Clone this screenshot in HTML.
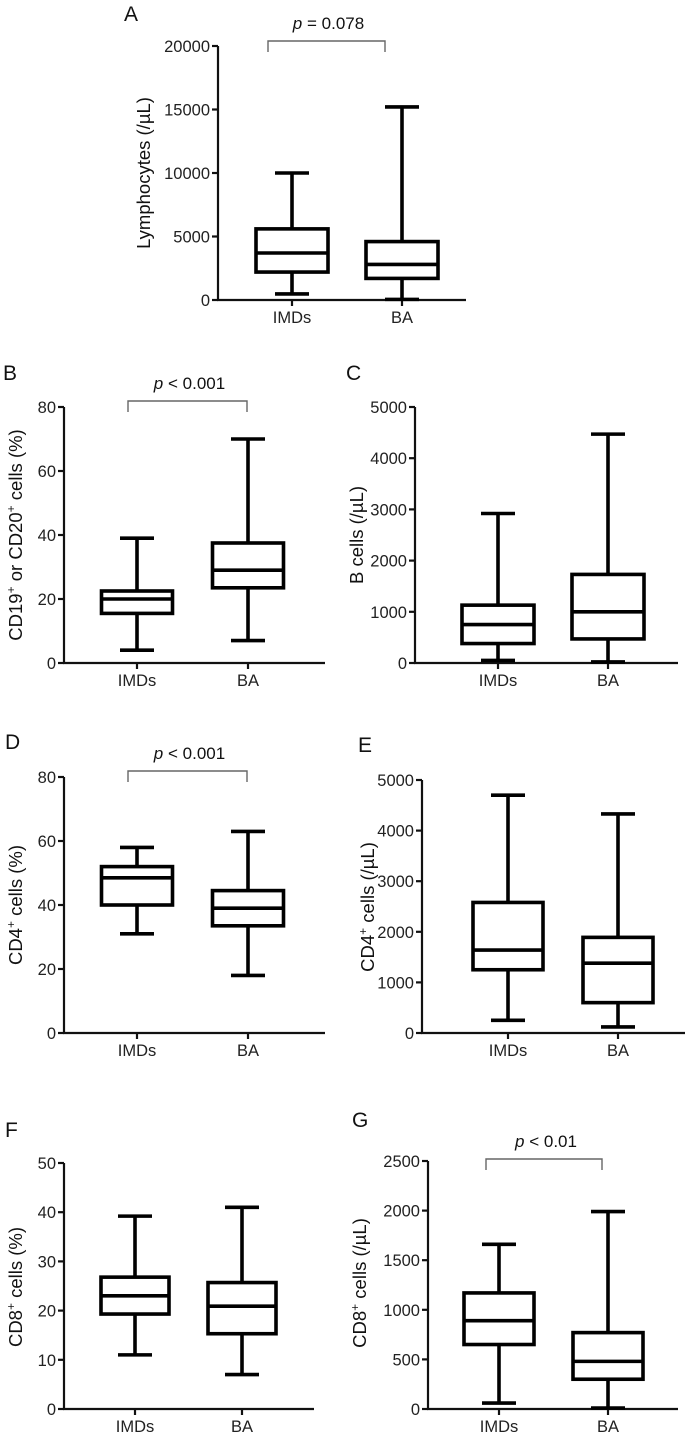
<!DOCTYPE html>
<html><head><meta charset="utf-8"><style>
html,body{margin:0;padding:0;background:#fff;}
svg{display:block;font-family:"Liberation Sans",Arial,sans-serif;}
</style></head><body>
<svg id="fig" width="685" height="1436" viewBox="0 0 685 1436" xmlns="http://www.w3.org/2000/svg"></svg>
<script>
const cats = ["IMDs","BA"];
// Panel A
const aMin=[480,50], aQ1=[2200,1700], aMed=[3700,2800], aQ3=[5600,4600], aMax=[10000,15200];
const aTicks=[0,5000,10000,15000,20000];
// Panel B
const bMin=[4,7], bQ1=[15.5,23.5], bMed=[20,29], bQ3=[22.5,37.5], bMax=[39,70];
const bTicks=[0,20,40,60,80];
// Panel C
const cMin=[50,20], cQ1=[380,470], cMed=[750,1000], cQ3=[1130,1730], cMax=[2920,4470];
const cTicks=[0,1000,2000,3000,4000,5000];
// Panel D
const dMin=[31,18], dQ1=[40,33.5], dMed=[48.5,39], dQ3=[52,44.5], dMax=[58,63];
const dTicks=[0,20,40,60,80];
// Panel E
const eMin=[250,120], eQ1=[1250,600], eMed=[1640,1380], eQ3=[2580,1890], eMax=[4700,4330];
const eTicks=[0,1000,2000,3000,4000,5000];
// Panel F
const fMin=[11,7], fQ1=[19.3,15.3], fMed=[23,20.9], fQ3=[26.8,25.7], fMax=[39.2,41];
const fTicks=[0,10,20,30,40,50];
// Panel G
const gMin=[60,10], gQ1=[650,300], gMed=[890,480], gQ3=[1170,770], gMax=[1660,1990];
const gTicks=[0,500,1000,1500,2000,2500];

const svg=document.getElementById('fig');
const NS='http://www.w3.org/2000/svg';
function mk(tag,attrs,parent){const e=document.createElementNS(NS,tag);for(const k in attrs)e.setAttribute(k,attrs[k]);(parent||svg).appendChild(e);return e;}

function panel(cfg){
  const g=mk('g',{});
  
  
  const ymax=cfg.ticks[cfg.ticks.length-1];
  const ys=v=>cfg.y0-(v/ymax)*(cfg.y0-cfg.yTop);
  const xs=[cfg.x1,cfg.x2];
  const L=mk('text',{x:cfg.lx,y:cfg.ly,'font-size':21,fill:'#111'},g);L.textContent=cfg.id;
  
  
  const ya=mk('line',{x1:cfg.ax,y1:cfg.yTop,x2:cfg.ax,y2:cfg.y0+1,stroke:'#111','stroke-width':2.2},g);
  
  
  const xa=mk('line',{x1:cfg.ax-1,y1:cfg.y0,x2:cfg.xEnd,y2:cfg.y0,stroke:'#111','stroke-width':2.2},g);
  
  
  cfg.ticks.forEach(t=>{
    const y=ys(t);
    mk('line',{x1:cfg.ax-6,y1:y,x2:cfg.ax,y2:y,stroke:'#111','stroke-width':2.2},g);
    const tl=mk('text',{x:cfg.ax-8,y:y+6,'font-size':16.5,'text-anchor':'end',fill:'#222'},g);
    tl.textContent=t;
    
    
  });
  const tt=mk('text',{x:0,y:0,'font-size':18.5,'text-anchor':'middle',fill:'#111',transform:`translate(${cfg.tx},${cfg.ty}) rotate(-90)`},g);
  tt.innerHTML=cfg.title;
  
  
  const d=cfg.data;
  cats.forEach((c,i)=>{
    const x=xs[i];
    mk('line',{x1:x,y1:cfg.y0,x2:x,y2:cfg.y0+6,stroke:'#111','stroke-width':2.2},g);
    const cl=mk('text',{x:x,y:cfg.y0+23,'font-size':16.5,'text-anchor':'middle',fill:'#222'},g);
    cl.textContent=c;
    
    
    const bg=mk('g',{stroke:'#000','stroke-width':3.6,fill:'none'},g);
    
    
    const hw=cfg.bw/2, cw=17;
    mk('line',{x1:x,y1:ys(d.max[i]),x2:x,y2:ys(d.q3[i])},bg);
    mk('line',{x1:x,y1:ys(d.q1[i]),x2:x,y2:ys(d.min[i])},bg);
    mk('line',{x1:x-cw,y1:ys(d.max[i]),x2:x+cw,y2:ys(d.max[i])},bg);
    mk('line',{x1:x-cw,y1:ys(d.min[i]),x2:x+cw,y2:ys(d.min[i])},bg);
    mk('rect',{x:x-hw,y:ys(d.q3[i]),width:cfg.bw,height:ys(d.q1[i])-ys(d.q3[i]),fill:'#fff'},bg);
    mk('line',{x1:x-hw,y1:ys(d.med[i]),x2:x+hw,y2:ys(d.med[i])},bg);
  });
  if(cfg.p){
    const b=mk('path',{d:`M${cfg.bl},${cfg.by+11} V${cfg.by} H${cfg.br} V${cfg.by+11}`,stroke:'#666','stroke-width':1.4,fill:'none'},g);
    
    
    const pt=mk('text',{x:(cfg.bl+cfg.br)/2+2,y:cfg.by-12,'font-size':17,'text-anchor':'middle',fill:'#111'},g);
    pt.innerHTML='<tspan font-style="italic">p</tspan> '+cfg.p;
    
    
  }
}
const sup='<tspan baseline-shift="super" font-size="12">+</tspan>';
panel({id:'A',lx:124,ly:21,ax:218,y0:300,yTop:46,x1:292,x2:402,xEnd:466,bw:72,ticks:aTicks,tx:150,ty:173,
  title:'Lymphocytes (/µL)',data:{min:aMin,q1:aQ1,med:aMed,q3:aQ3,max:aMax},p:'= 0.078',by:41,bl:268,br:385});
panel({id:'B',lx:3,ly:380,ax:64,y0:663,yTop:407,x1:137,x2:248,xEnd:325,bw:71,ticks:bTicks,tx:22,ty:535,
  title:'CD19'+sup+' or CD20'+sup+' cells (%)',data:{min:bMin,q1:bQ1,med:bMed,q3:bQ3,max:bMax},p:'&lt; 0.001',by:401,bl:128,br:247});
panel({id:'C',lx:346,ly:380,ax:415,y0:663,yTop:407,x1:498,x2:608,xEnd:678,bw:72,ticks:cTicks,tx:363,ty:535,
  title:'B cells (/µL)',data:{min:cMin,q1:cQ1,med:cMed,q3:cQ3,max:cMax}});
panel({id:'D',lx:5,ly:749,ax:64,y0:1033,yTop:777,x1:137,x2:248,xEnd:325,bw:71,ticks:dTicks,tx:22,ty:905,
  title:'CD4'+sup+' cells (%)',data:{min:dMin,q1:dQ1,med:dMed,q3:dQ3,max:dMax},p:'&lt; 0.001',by:771,bl:128,br:247});
panel({id:'E',lx:358,ly:752,ax:422,y0:1033,yTop:780,x1:508,x2:618,xEnd:685,bw:70,ticks:eTicks,tx:374,ty:907,
  title:'CD4'+sup+' cells (/µL)',data:{min:eMin,q1:eQ1,med:eMed,q3:eQ3,max:eMax}});
panel({id:'F',lx:5,ly:1137,ax:64,y0:1409,yTop:1163,x1:135,x2:242,xEnd:314,bw:68,ticks:fTicks,tx:22,ty:1287,
  title:'CD8'+sup+' cells (%)',data:{min:fMin,q1:fQ1,med:fMed,q3:fQ3,max:fMax}});
panel({id:'G',lx:352,ly:1127,ax:428,y0:1409,yTop:1161,x1:499,x2:608,xEnd:678,bw:70,ticks:gTicks,tx:366,ty:1283,
  title:'CD8'+sup+' cells (/µL)',data:{min:gMin,q1:gQ1,med:gMed,q3:gQ3,max:gMax},p:'&lt; 0.01',by:1159,bl:486,br:602});
</script>
</body></html>
